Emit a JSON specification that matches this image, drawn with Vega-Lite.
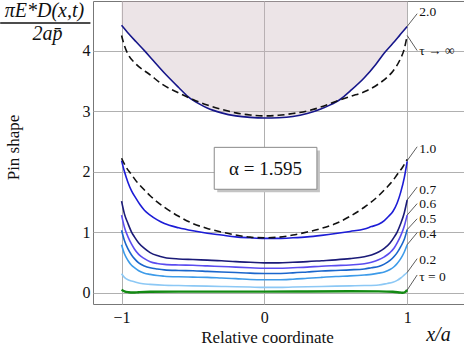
{
  "$schema": "https://vega.github.io/schema/vega-lite/v6.json",
  "width": 372,
  "height": 303,
  "autosize": {"type": "none"},
  "padding": {"left": 93, "top": 1, "right": 0, "bottom": 41},
  "config": {
    "view": {"stroke": "#777", "strokeWidth": 1},
    "font": "Liberation Serif",
    "axis": {
      "grid": true,
      "gridColor": "#b0b0b0",
      "gridWidth": 1,
      "domain": false,
      "ticks": false,
      "tickSize": 0,
      "format": "~g",
      "labelFont": "Liberation Serif",
      "labelFontSize": 16,
      "labelColor": "#111",
      "titleFont": "Liberation Serif",
      "titleFontSize": 17,
      "titleFontWeight": "normal",
      "titleColor": "#111"
    }
  },
  "datasets": {
    "curves": [
      {"s":"2.0","x":-1,"y":4.42},{"s":"2.0","x":-0.95,"y":4.28},{"s":"2.0","x":-0.9,"y":4.15},{"s":"2.0","x":-0.84,"y":4.0},{"s":"2.0","x":-0.78,"y":3.84},{"s":"2.0","x":-0.7,"y":3.63},{"s":"2.0","x":-0.6,"y":3.39},{"s":"2.0","x":-0.535,"y":3.24},{"s":"2.0","x":-0.45,"y":3.11},{"s":"2.0","x":-0.4,"y":3.05},{"s":"2.0","x":-0.3,"y":2.97},{"s":"2.0","x":-0.2,"y":2.92},{"s":"2.0","x":-0.1,"y":2.895},{"s":"2.0","x":0,"y":2.885},{"s":"2.0","x":0.1,"y":2.89},{"s":"2.0","x":0.2,"y":2.91},{"s":"2.0","x":0.3,"y":2.96},{"s":"2.0","x":0.4,"y":3.04},{"s":"2.0","x":0.45,"y":3.09},{"s":"2.0","x":0.535,"y":3.2},{"s":"2.0","x":0.6,"y":3.33},{"s":"2.0","x":0.7,"y":3.55},{"s":"2.0","x":0.78,"y":3.77},{"s":"2.0","x":0.84,"y":3.96},{"s":"2.0","x":0.9,"y":4.12},{"s":"2.0","x":0.95,"y":4.26},{"s":"2.0","x":1,"y":4.4},

      {"s":"1.0","x":-1,"y":2.18},{"s":"1.0","x":-0.98,"y":2.0},{"s":"1.0","x":-0.955,"y":1.82},{"s":"1.0","x":-0.93,"y":1.68},{"s":"1.0","x":-0.9,"y":1.56},{"s":"1.0","x":-0.87,"y":1.45},{"s":"1.0","x":-0.84,"y":1.36},{"s":"1.0","x":-0.8,"y":1.28},{"s":"1.0","x":-0.75,"y":1.2},{"s":"1.0","x":-0.7,"y":1.14},{"s":"1.0","x":-0.6,"y":1.07},{"s":"1.0","x":-0.5,"y":1.02},{"s":"1.0","x":-0.4,"y":0.98},{"s":"1.0","x":-0.3,"y":0.95},{"s":"1.0","x":-0.2,"y":0.92},{"s":"1.0","x":-0.1,"y":0.905},{"s":"1.0","x":0,"y":0.895},{"s":"1.0","x":0.1,"y":0.895},{"s":"1.0","x":0.2,"y":0.905},{"s":"1.0","x":0.3,"y":0.92},{"s":"1.0","x":0.4,"y":0.945},{"s":"1.0","x":0.5,"y":0.975},{"s":"1.0","x":0.6,"y":1.01},{"s":"1.0","x":0.7,"y":1.05},{"s":"1.0","x":0.75,"y":1.09},{"s":"1.0","x":0.8,"y":1.13},{"s":"1.0","x":0.84,"y":1.19},{"s":"1.0","x":0.87,"y":1.26},{"s":"1.0","x":0.9,"y":1.34},{"s":"1.0","x":0.93,"y":1.48},{"s":"1.0","x":0.955,"y":1.66},{"s":"1.0","x":0.98,"y":1.9},{"s":"1.0","x":1,"y":2.17},

      {"s":"0.7","x":-1,"y":1.51},{"s":"0.7","x":-0.98,"y":1.3},{"s":"0.7","x":-0.955,"y":1.14},{"s":"0.7","x":-0.93,"y":1.0},{"s":"0.7","x":-0.91,"y":0.92},{"s":"0.7","x":-0.88,"y":0.82},{"s":"0.7","x":-0.84,"y":0.73},{"s":"0.7","x":-0.8,"y":0.66},{"s":"0.7","x":-0.75,"y":0.61},{"s":"0.7","x":-0.7,"y":0.58},{"s":"0.7","x":-0.6,"y":0.555},{"s":"0.7","x":-0.5,"y":0.545},{"s":"0.7","x":-0.4,"y":0.535},{"s":"0.7","x":-0.3,"y":0.525},{"s":"0.7","x":-0.2,"y":0.51},{"s":"0.7","x":-0.1,"y":0.5},{"s":"0.7","x":0,"y":0.49},{"s":"0.7","x":0.1,"y":0.49},{"s":"0.7","x":0.2,"y":0.5},{"s":"0.7","x":0.3,"y":0.51},{"s":"0.7","x":0.4,"y":0.525},{"s":"0.7","x":0.5,"y":0.54},{"s":"0.7","x":0.6,"y":0.56},{"s":"0.7","x":0.7,"y":0.59},{"s":"0.7","x":0.75,"y":0.62},{"s":"0.7","x":0.8,"y":0.67},{"s":"0.7","x":0.84,"y":0.73},{"s":"0.7","x":0.88,"y":0.82},{"s":"0.7","x":0.91,"y":0.92},{"s":"0.7","x":0.93,"y":1.0},{"s":"0.7","x":0.955,"y":1.14},{"s":"0.7","x":0.98,"y":1.32},{"s":"0.7","x":1,"y":1.53},

      {"s":"0.6","x":-1,"y":1.28},{"s":"0.6","x":-0.98,"y":1.08},{"s":"0.6","x":-0.955,"y":0.92},{"s":"0.6","x":-0.93,"y":0.8},{"s":"0.6","x":-0.91,"y":0.72},{"s":"0.6","x":-0.88,"y":0.63},{"s":"0.6","x":-0.84,"y":0.56},{"s":"0.6","x":-0.8,"y":0.51},{"s":"0.6","x":-0.75,"y":0.48},{"s":"0.6","x":-0.7,"y":0.465},{"s":"0.6","x":-0.6,"y":0.455},{"s":"0.6","x":-0.5,"y":0.45},{"s":"0.6","x":-0.4,"y":0.44},{"s":"0.6","x":-0.3,"y":0.43},{"s":"0.6","x":-0.2,"y":0.42},{"s":"0.6","x":-0.1,"y":0.41},{"s":"0.6","x":0,"y":0.4},{"s":"0.6","x":0.1,"y":0.4},{"s":"0.6","x":0.2,"y":0.41},{"s":"0.6","x":0.3,"y":0.42},{"s":"0.6","x":0.4,"y":0.435},{"s":"0.6","x":0.5,"y":0.445},{"s":"0.6","x":0.6,"y":0.455},{"s":"0.6","x":0.7,"y":0.475},{"s":"0.6","x":0.75,"y":0.5},{"s":"0.6","x":0.8,"y":0.54},{"s":"0.6","x":0.84,"y":0.59},{"s":"0.6","x":0.88,"y":0.66},{"s":"0.6","x":0.91,"y":0.74},{"s":"0.6","x":0.93,"y":0.82},{"s":"0.6","x":0.955,"y":0.94},{"s":"0.6","x":0.98,"y":1.1},{"s":"0.6","x":1,"y":1.28},

      {"s":"0.5","x":-1,"y":1.03},{"s":"0.5","x":-0.98,"y":0.86},{"s":"0.5","x":-0.955,"y":0.72},{"s":"0.5","x":-0.93,"y":0.62},{"s":"0.5","x":-0.91,"y":0.56},{"s":"0.5","x":-0.88,"y":0.49},{"s":"0.5","x":-0.84,"y":0.44},{"s":"0.5","x":-0.8,"y":0.41},{"s":"0.5","x":-0.75,"y":0.39},{"s":"0.5","x":-0.7,"y":0.375},{"s":"0.5","x":-0.6,"y":0.365},{"s":"0.5","x":-0.5,"y":0.36},{"s":"0.5","x":-0.4,"y":0.35},{"s":"0.5","x":-0.3,"y":0.34},{"s":"0.5","x":-0.2,"y":0.33},{"s":"0.5","x":-0.1,"y":0.32},{"s":"0.5","x":0,"y":0.315},{"s":"0.5","x":0.1,"y":0.315},{"s":"0.5","x":0.2,"y":0.325},{"s":"0.5","x":0.3,"y":0.34},{"s":"0.5","x":0.4,"y":0.355},{"s":"0.5","x":0.5,"y":0.365},{"s":"0.5","x":0.6,"y":0.375},{"s":"0.5","x":0.7,"y":0.39},{"s":"0.5","x":0.75,"y":0.41},{"s":"0.5","x":0.8,"y":0.43},{"s":"0.5","x":0.84,"y":0.47},{"s":"0.5","x":0.88,"y":0.53},{"s":"0.5","x":0.91,"y":0.6},{"s":"0.5","x":0.93,"y":0.66},{"s":"0.5","x":0.955,"y":0.76},{"s":"0.5","x":0.98,"y":0.88},{"s":"0.5","x":1,"y":1.04},

      {"s":"0.4","x":-1,"y":0.79},{"s":"0.4","x":-0.98,"y":0.64},{"s":"0.4","x":-0.955,"y":0.53},{"s":"0.4","x":-0.93,"y":0.45},{"s":"0.4","x":-0.91,"y":0.41},{"s":"0.4","x":-0.88,"y":0.36},{"s":"0.4","x":-0.84,"y":0.32},{"s":"0.4","x":-0.8,"y":0.3},{"s":"0.4","x":-0.75,"y":0.28},{"s":"0.4","x":-0.7,"y":0.27},{"s":"0.4","x":-0.6,"y":0.26},{"s":"0.4","x":-0.5,"y":0.255},{"s":"0.4","x":-0.4,"y":0.25},{"s":"0.4","x":-0.3,"y":0.24},{"s":"0.4","x":-0.2,"y":0.23},{"s":"0.4","x":-0.1,"y":0.215},{"s":"0.4","x":0,"y":0.21},{"s":"0.4","x":0.1,"y":0.21},{"s":"0.4","x":0.2,"y":0.22},{"s":"0.4","x":0.3,"y":0.235},{"s":"0.4","x":0.4,"y":0.25},{"s":"0.4","x":0.5,"y":0.265},{"s":"0.4","x":0.6,"y":0.275},{"s":"0.4","x":0.7,"y":0.29},{"s":"0.4","x":0.75,"y":0.3},{"s":"0.4","x":0.8,"y":0.32},{"s":"0.4","x":0.84,"y":0.34},{"s":"0.4","x":0.88,"y":0.38},{"s":"0.4","x":0.91,"y":0.43},{"s":"0.4","x":0.93,"y":0.48},{"s":"0.4","x":0.955,"y":0.56},{"s":"0.4","x":0.98,"y":0.67},{"s":"0.4","x":1,"y":0.79},

      {"s":"0.2","x":-1,"y":0.31},{"s":"0.2","x":-0.98,"y":0.25},{"s":"0.2","x":-0.955,"y":0.21},{"s":"0.2","x":-0.93,"y":0.19},{"s":"0.2","x":-0.9,"y":0.17},{"s":"0.2","x":-0.85,"y":0.145},{"s":"0.2","x":-0.8,"y":0.135},{"s":"0.2","x":-0.7,"y":0.12},{"s":"0.2","x":-0.6,"y":0.115},{"s":"0.2","x":-0.5,"y":0.11},{"s":"0.2","x":-0.4,"y":0.105},{"s":"0.2","x":-0.3,"y":0.1},{"s":"0.2","x":-0.2,"y":0.095},{"s":"0.2","x":-0.1,"y":0.09},{"s":"0.2","x":0,"y":0.085},{"s":"0.2","x":0.1,"y":0.085},{"s":"0.2","x":0.2,"y":0.09},{"s":"0.2","x":0.3,"y":0.095},{"s":"0.2","x":0.4,"y":0.1},{"s":"0.2","x":0.5,"y":0.105},{"s":"0.2","x":0.6,"y":0.11},{"s":"0.2","x":0.7,"y":0.115},{"s":"0.2","x":0.8,"y":0.125},{"s":"0.2","x":0.86,"y":0.15},{"s":"0.2","x":0.9,"y":0.17},{"s":"0.2","x":0.93,"y":0.2},{"s":"0.2","x":0.955,"y":0.24},{"s":"0.2","x":0.98,"y":0.29},{"s":"0.2","x":1,"y":0.33}
    ],
    "green": [
      {"x":-1,"y":0.045},{"x":-0.98,"y":0.02},{"x":-0.95,"y":0.005},{"x":-0.92,"y":0.0},{"x":-0.88,"y":0.005},{"x":-0.8,"y":0.012},{"x":-0.6,"y":0.015},{"x":-0.3,"y":0.015},{"x":0,"y":0.015},{"x":0.3,"y":0.017},{"x":0.6,"y":0.02},{"x":0.8,"y":0.018},{"x":0.9,"y":0.012},{"x":0.95,"y":0.0},{"x":0.97,"y":-0.005},{"x":0.99,"y":0.015},{"x":1,"y":0.04}
    ],
    "dash": [
      {"s":"hi","x":-1,"y":4.25},{"s":"hi","x":-0.98,"y":4.08},{"s":"hi","x":-0.95,"y":3.92},{"s":"hi","x":-0.9,"y":3.78},{"s":"hi","x":-0.8,"y":3.6},{"s":"hi","x":-0.72,"y":3.45},{"s":"hi","x":-0.6,"y":3.3},{"s":"hi","x":-0.5,"y":3.19},{"s":"hi","x":-0.4,"y":3.1},{"s":"hi","x":-0.3,"y":3.03},{"s":"hi","x":-0.2,"y":2.97},{"s":"hi","x":-0.1,"y":2.935},{"s":"hi","x":0,"y":2.92},{"s":"hi","x":0.1,"y":2.93},{"s":"hi","x":0.2,"y":2.96},{"s":"hi","x":0.3,"y":3.0},{"s":"hi","x":0.4,"y":3.07},{"s":"hi","x":0.5,"y":3.16},{"s":"hi","x":0.6,"y":3.24},{"s":"hi","x":0.72,"y":3.34},{"s":"hi","x":0.8,"y":3.45},{"s":"hi","x":0.86,"y":3.56},{"s":"hi","x":0.9,"y":3.66},{"s":"hi","x":0.95,"y":3.85},{"s":"hi","x":0.98,"y":4.03},{"s":"hi","x":1,"y":4.25},
      {"s":"lo","x":-1,"y":2.22},{"s":"lo","x":-0.97,"y":2.08},{"s":"lo","x":-0.93,"y":1.95},{"s":"lo","x":-0.9,"y":1.85},{"s":"lo","x":-0.85,"y":1.72},{"s":"lo","x":-0.8,"y":1.6},{"s":"lo","x":-0.7,"y":1.41},{"s":"lo","x":-0.6,"y":1.26},{"s":"lo","x":-0.5,"y":1.14},{"s":"lo","x":-0.4,"y":1.06},{"s":"lo","x":-0.3,"y":1.0},{"s":"lo","x":-0.2,"y":0.95},{"s":"lo","x":-0.1,"y":0.915},{"s":"lo","x":0,"y":0.905},{"s":"lo","x":0.1,"y":0.915},{"s":"lo","x":0.2,"y":0.95},{"s":"lo","x":0.3,"y":1.0},{"s":"lo","x":0.4,"y":1.06},{"s":"lo","x":0.5,"y":1.14},{"s":"lo","x":0.6,"y":1.26},{"s":"lo","x":0.7,"y":1.41},{"s":"lo","x":0.8,"y":1.6},{"s":"lo","x":0.85,"y":1.72},{"s":"lo","x":0.9,"y":1.85},{"s":"lo","x":0.93,"y":1.95},{"s":"lo","x":0.97,"y":2.08},{"s":"lo","x":1,"y":2.2}
    ],
    "labels": [
      {"lab":"2.0","y0":4.4,"y1":4.61,"ty":4.63},
      {"lab":"τ → ∞","y0":4.25,"y1":4.0,"ty":3.99},
      {"lab":"1.0","y0":2.18,"y1":2.41,"ty":2.38},
      {"lab":"0.7","y0":1.53,"y1":1.745,"ty":1.7},
      {"lab":"0.6","y0":1.28,"y1":1.47,"ty":1.46},
      {"lab":"0.5","y0":1.04,"y1":1.22,"ty":1.215},
      {"lab":"0.4","y0":0.79,"y1":0.99,"ty":0.97},
      {"lab":"0.2","y0":0.33,"y1":0.56,"ty":0.53},
      {"lab":"τ = 0","y0":0.04,"y1":0.29,"ty":0.26}
    ]
  },
  "layer": [
    {
      "data": {"name": "curves"},
      "transform": [{"filter": "datum.s === '2.0'"}],
      "mark": {"type": "area", "interpolate": "monotone", "color": "#c8b2b9", "opacity": 0.35},
      "encoding": {
        "x": {"field": "x", "type": "quantitative",
              "scale": {"domain": [-1.2, 1.405], "nice": false, "zero": false},
              "axis": {"values": [-1, 0, 1], "labelPadding": 5, "title": "Relative coordinate",
                       "titleX": 174, "titleY": 38, "titleBaseline": "alphabetic", "titleAlign": "center", "titleAnchor": null}},
        "y": {"field": "y", "type": "quantitative",
              "scale": {"domain": [-0.19, 4.82], "nice": false, "zero": false},
              "axis": {"values": [0, 1, 2, 3, 4], "labelPadding": 3, "title": "Pin shape",
                       "titleX": -80, "titleY": 146, "titleAlign": "center", "titleAnchor": null, "titleBaseline": "middle"}},
        "y2": {"datum": 4.82}
      }
    },
    {
      "data": {"name": "curves"},
      "mark": {"type": "line", "interpolate": "monotone", "strokeWidth": 1.6},
      "encoding": {
        "x": {"field": "x", "type": "quantitative"},
        "y": {"field": "y", "type": "quantitative"},
        "color": {"field": "s", "type": "nominal", "legend": null,
                  "scale": {"domain": ["2.0", "1.0", "0.7", "0.6", "0.5", "0.4", "0.2"],
                            "range": ["#16168a", "#1c1cd6", "#1b1b78", "#5b4cf0", "#1a66cc", "#3d9be9", "#8cc8f5"]}}
      }
    },
    {
      "data": {"name": "green"},
      "mark": {"type": "line", "interpolate": "monotone", "strokeWidth": 2.4, "color": "#138a13"},
      "encoding": {
        "x": {"field": "x", "type": "quantitative"},
        "y": {"field": "y", "type": "quantitative"}
      }
    },
    {
      "data": {"name": "dash"},
      "mark": {"type": "line", "interpolate": "monotone", "strokeWidth": 1.6, "color": "#111", "strokeDash": [7, 4]},
      "encoding": {
        "x": {"field": "x", "type": "quantitative"},
        "y": {"field": "y", "type": "quantitative"},
        "detail": {"field": "s", "type": "nominal"}
      }
    },
    {
      "data": {"name": "labels"},
      "mark": {"type": "rule", "color": "#333", "strokeWidth": 0.8},
      "encoding": {
        "x": {"datum": 1},
        "x2": {"datum": 1.07},
        "y": {"field": "y0", "type": "quantitative"},
        "y2": {"field": "y1"}
      }
    },
    {
      "data": {"name": "labels"},
      "mark": {"type": "text", "align": "left", "baseline": "middle", "fontSize": 13.5, "font": "Liberation Serif", "color": "#111"},
      "encoding": {
        "x": {"datum": 1.085},
        "y": {"field": "ty", "type": "quantitative"},
        "text": {"field": "lab"}
      }
    },
    {
      "data": {"values": [{}]},
      "mark": {"type": "rect", "color": "#c4c4c4"},
      "encoding": {
        "x": {"datum": -0.33}, "x2": {"datum": 0.389},
        "y": {"datum": 2.35}, "y2": {"datum": 1.657}
      }
    },
    {
      "data": {"values": [{}]},
      "mark": {"type": "rect", "fill": "white", "stroke": "#8a8a8a", "strokeWidth": 1},
      "encoding": {
        "x": {"datum": -0.351}, "x2": {"datum": 0.368},
        "y": {"datum": 2.4}, "y2": {"datum": 1.707}
      }
    },
    {
      "data": {"values": [{"t": "α = 1.595"}]},
      "mark": {"type": "text", "fontSize": 19, "font": "Liberation Serif", "color": "#111", "align": "center", "baseline": "middle"},
      "encoding": {
        "x": {"datum": 0.008}, "y": {"datum": 2.05}, "text": {"field": "t"}
      }
    },
    {
      "data": {"values": [{"t": "πE*D(x,t)", "px": -1.54, "py": 4.655}, {"t": "2ap̄", "px": -1.518, "py": 4.27}]},
      "mark": {"type": "text", "fontSize": 20, "font": "Liberation Serif", "fontStyle": "italic", "color": "#111", "align": "center", "baseline": "middle"},
      "encoding": {
        "x": {"field": "px", "type": "quantitative"}, "y": {"field": "py", "type": "quantitative"}, "text": {"field": "t"}
      }
    },
    {
      "data": {"values": [{}]},
      "mark": {"type": "rule", "color": "#111", "strokeWidth": 1.5},
      "encoding": {
        "x": {"datum": -1.85}, "x2": {"datum": -1.218}, "y": {"datum": 4.456}
      }
    },
    {
      "data": {"values": [{"t": "x/a"}]},
      "mark": {"type": "text", "fontSize": 20, "font": "Liberation Serif", "fontStyle": "italic", "color": "#111", "align": "center", "baseline": "middle"},
      "encoding": {
        "x": {"datum": 1.219}, "y": {"datum": -0.71}, "text": {"field": "t"}
      }
    }
  ]
}
